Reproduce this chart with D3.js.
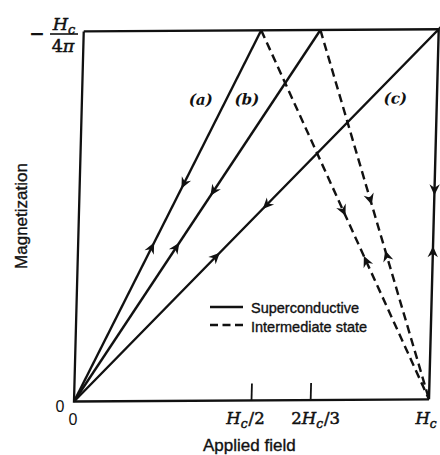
<!DOCTYPE html>
<html><head><meta charset="utf-8">
<script src="https://cdn.jsdelivr.net/npm/d3@7"></script>
<style>html,body{margin:0;padding:0;background:#fff}svg{display:block}</style>
</head><body><svg id="c" width="440" height="455"></svg>
<script>
// ---------- data (in units of Hc and Hc/4π) ----------
const superconductiveA = [[0, 0], [1/2, 1]];
const superconductiveB = [[0, 0], [2/3, 1]];
const superconductiveC = [[0, 0], [1, 1], [1, 0]];
const intermediateA = [[1/2, 1], [1, 0]];
const intermediateB = [[2/3, 1], [1, 0]];
const frameLines = [[[0, 1], [0, 0], [1, 0]], [[0, 1], [1, 1]]];
const xTickValues = [1/2, 2/3];
// label parts: [text, style]  i = italic, s = italic subscript, r = roman
const xTickLabels = [
  [["H", "i"], ["c", "s"], ["/2", "r"]],
  [["2", "r"], ["H", "i"], ["c", "s"], ["/3", "r"]]
];
const xEndLabel = [["H", "i"], ["c", "s"]];
const yTopNumerator = [["H", "i"], ["c", "s"]];
const yTopDenominator = [["4", "r"], ["π", "i"]];
const curveNames = ["(a)", "(b)", "(c)"];
const curveNameAt = [[0.335, 0.80], [0.465, 0.80], [0.883, 0.80]];
const legendLabels = ["Superconductive", "Intermediate state"];
// arrows: line, segment index, fraction along segment, direction (+1 forward / -1 back)
const arrows = [
  [superconductiveA, 0, 0.416, 1], [superconductiveA, 0, 0.586, -1],
  [superconductiveB, 0, 0.416, 1], [superconductiveB, 0, 0.565, -1],
  [superconductiveC, 0, 0.39, 1], [superconductiveC, 0, 0.527, -1],
  [superconductiveC, 1, 0.435, 1], [superconductiveC, 1, 0.60, -1],
  [intermediateA, 0, 0.49, 1], [intermediateA, 0, 0.624, -1],
  [intermediateB, 0, 0.46, 1], [intermediateB, 0, 0.61, -1]
];

// ---------- layout ----------
const svg = d3.select("#c");
const x = d3.scaleLinear().domain([0, 1]).range([74, 429]);
const y = d3.scaleLinear().domain([0, 1]).range([401.5, 31.5]);
const k = 12 / 370;
const skewDeg = -Math.atan(k) * 180 / Math.PI;
const sans = "'Liberation Sans', Arial, Helvetica, sans-serif";
const serif = "'DejaVu Serif', serif";
const ink = "#111";

const g = svg.append("g")
  .attr("transform", `rotate(-0.35,${x(0)},${y(0)}) translate(${k * y(0)},0) skewX(${skewDeg})`);

const line = d3.line().x(d => x(d[0])).y(d => y(d[1]));
const stroke = (sel, w) => sel.attr("fill", "none").attr("stroke", ink).attr("stroke-width", w)
  .attr("stroke-linejoin", "miter").attr("stroke-linecap", "butt");
const heavy = (sel, w) => sel.attr("stroke", ink).attr("stroke-width", w).attr("paint-order", "stroke");

frameLines.forEach(f => stroke(g.append("path").attr("d", line(f)), 2.3));
// ticks
xTickValues.forEach(v => stroke(g.append("line")
  .attr("x1", x(v)).attr("x2", x(v)).attr("y1", y(0)).attr("y2", y(0) - 17), 1.8));

[superconductiveA, superconductiveB, superconductiveC].forEach(s =>
  stroke(g.append("path").attr("d", line(s)), 2.4));
[intermediateA, intermediateB].forEach(s =>
  stroke(g.append("path").attr("d", line(s)), 2.4).attr("stroke-dasharray", "8.5,5"));

// arrows
arrows.forEach(([ln, seg, t, dir]) => {
  const a = ln[seg], b = ln[seg + 1];
  const px = x(a[0] + (b[0] - a[0]) * t), py = y(a[1] + (b[1] - a[1]) * t);
  let ang = Math.atan2(y(b[1]) - y(a[1]), x(b[0]) - x(a[0])) * 180 / Math.PI;
  if (dir < 0) ang += 180;
  g.append("path").attr("d", "M5,0L-6,-5.2L-2.5,0L-6,5.2Z").attr("fill", ink)
    .attr("transform", `translate(${px},${py}) rotate(${ang})`);
});

// curve names
curveNames.forEach((n, i) => g.append("text")
  .attr("x", x(curveNameAt[i][0])).attr("y", y(curveNameAt[i][1]))
  .attr("text-anchor", "middle").attr("font-family", serif).attr("font-style", "italic")
  .attr("font-weight", "bold").attr("font-size", 15).attr("fill", ink).text(n));

// math text helper
function mathText(parent, parts, px, py, size, anchor) {
  const t = parent.append("text").attr("x", px).attr("y", py).attr("text-anchor", anchor)
    .attr("font-family", serif).attr("font-size", size).attr("fill", ink);
  heavy(t, 0.5);
  let shifted = 0;
  parts.forEach(([s, st]) => {
    const ts = t.append("tspan").text(s);
    if (st === "i" || st === "s") ts.attr("font-style", "italic");
    if (st === "s") { ts.attr("font-size", size * 0.74).attr("dy", 4); shifted = 4; }
    else if (shifted) { ts.attr("dy", -shifted); shifted = 0; }
    if (s.startsWith("/")) ts.attr("dx", 1);
  });
  return t;
}

// x tick labels
const tickDx = [-6, 5];
xTickValues.forEach((v, i) => mathText(svg, xTickLabels[i], x(v) + tickDx[i], 424, 16.5, "middle"));
mathText(svg, xEndLabel, x(1) - 3, 424, 16.5, "middle");

// zero labels
svg.append("text").attr("x", 60).attr("y", 412).attr("text-anchor", "middle")
  .attr("font-family", sans).attr("font-size", 16).attr("fill", ink).text("0");
svg.append("text").attr("x", 73).attr("y", 425).attr("text-anchor", "middle")
  .attr("font-family", sans).attr("font-size", 16).attr("fill", ink).text("0");

// top y label  −Hc/4π
svg.append("text").attr("x", 37).attr("y", 40).attr("text-anchor", "middle")
  .attr("font-family", serif).attr("font-size", 19).attr("font-weight", "bold").attr("fill", ink).text("−");
svg.append("line").attr("x1", 50).attr("x2", 78).attr("y1", 34).attr("y2", 34)
  .attr("stroke", ink).attr("stroke-width", 1.6);
mathText(svg, yTopNumerator, 64, 30, 17.5, "middle");
mathText(svg, yTopDenominator, 63, 52, 17.5, "middle");

// axis titles
heavy(svg.append("text").attr("x", 203).attr("y", 451).attr("font-family", sans)
  .attr("font-size", 17).attr("fill", ink).text("Applied field"), 0.35);
heavy(svg.append("text").attr("transform", `translate(27,216) rotate(-90)`).attr("text-anchor", "middle")
  .attr("font-family", sans).attr("font-size", 17).attr("fill", ink).text("Magnetization"), 0.35);

// legend
const lg = svg.append("g");
stroke(lg.append("line").attr("x1", 210).attr("x2", 243).attr("y1", 307).attr("y2", 307), 2.3);
stroke(lg.append("line").attr("x1", 210).attr("x2", 243).attr("y1", 325).attr("y2", 325), 2.3)
  .attr("stroke-dasharray", "8,4.5");
legendLabels.forEach((l, i) => heavy(lg.append("text").attr("x", 251).attr("y", 313 + i * 19)
  .attr("font-family", sans).attr("font-size", 14.5).attr("fill", ink).text(l), 0.35));
</script></body></html>
